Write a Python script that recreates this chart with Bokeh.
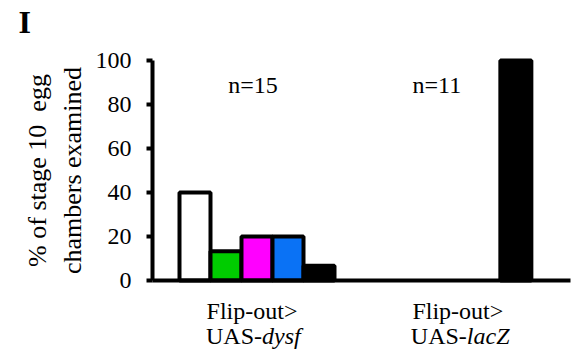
from bokeh.plotting import figure
from bokeh.models import Range1d, FixedTicker, Label, ColumnDataSource
from bokeh.embed import file_html
from bokeh.resources import INLINE

# ---- data ----
groups = ["dysf", "lacZ"]
group_line1 = ["Flip-out>", "Flip-out>"]
group_line2_plain = ["UAS-", "UAS-"]
group_line2_italic = ["dysf", "lacZ"]
group_n = ["n=15", "n=11"]
series_colors = ["#ffffff", "#00cc00", "#ff00ff", "#0a72f5", "#000000"]
dysf_values = [40.0, 13.3, 20.0, 20.0, 6.7]
lacz_values = [0.0, 0.0, 0.0, 0.0, 100.0]
y_ticks = [0, 20, 40, 60, 80, 100]

# ---- layout constants ----
GROUP_STEP = 6.35
FONT = "Liberation Serif"
AXIS_X = -1.371      # data x where the y axis sits
X_END = 12.11        # data x where the x axis line ends
flip_dx = [-5, 4]
split_dx = [5, 13]
n_dx = [-4, -17]

values = [dysf_values, lacz_values]
xs, tops, cols = [], [], []
for gi, vals in enumerate(values):
    for si, v in enumerate(vals):
        if v > 0:
            xs.append(gi * GROUP_STEP + si)
            tops.append(v)
            cols.append(series_colors[si])
src = ColumnDataSource(dict(x=xs, top=tops, color=cols))

p = figure(width=579, height=357, output_backend="svg", toolbar_location=None,
           x_range=Range1d(-6.274, 12.403), y_range=Range1d(-35.0, 127.27),
           min_border_left=0, min_border_right=0, min_border_top=0,
           min_border_bottom=0)
p.outline_line_color = None
p.xgrid.visible = False
p.ygrid.visible = False
p.background_fill_color = "white"
p.border_fill_color = "white"

p.vbar(x="x", top="top", bottom=0, width=1.0, fill_color="color",
       line_color="black", line_width=4, source=src)

# y axis
ya = p.yaxis[0]
ya.fixed_location = AXIS_X
ya.bounds = (0, 100)
ya.ticker = FixedTicker(ticks=y_ticks)
ya.axis_line_width = 4
ya.axis_line_color = "black"
ya.major_tick_line_width = 4
ya.major_tick_out = 6
ya.major_tick_in = 0
ya.minor_tick_line_color = None
ya.major_label_text_font = FONT
ya.major_label_text_font_size = "24px"
ya.major_label_text_color = "black"
ya.major_label_standoff = 15
ya.axis_label = "% of stage 10 \u00a0egg\nchambers examined"
ya.axis_label_text_font = FONT
ya.axis_label_text_font_size = "26px"
ya.axis_label_text_font_style = "normal"
ya.axis_label_text_color = "black"
ya.axis_label_standoff = 6

# x axis
xa = p.xaxis[0]
xa.fixed_location = 0
xa.bounds = (AXIS_X, X_END)
xa.ticker = FixedTicker(ticks=[])
xa.axis_line_width = 4
xa.axis_line_color = "black"
xa.major_tick_line_color = None
xa.minor_tick_line_color = None

for gi in range(len(groups)):
    c = gi * GROUP_STEP + 2
    p.add_layout(Label(x=c, y=-13.8, x_offset=flip_dx[gi], text=group_line1[gi],
                       text_align="center", text_baseline="alphabetic",
                       text_font=FONT, text_font_size="24px", text_color="black"))
    p.add_layout(Label(x=c, y=-25.2, x_offset=split_dx[gi], text=group_line2_plain[gi],
                       text_align="right", text_baseline="alphabetic",
                       text_font=FONT, text_font_size="24px", text_color="black"))
    p.add_layout(Label(x=c, y=-25.2, x_offset=split_dx[gi], text=group_line2_italic[gi],
                       text_align="left", text_baseline="alphabetic",
                       text_font=FONT, text_font_size="24px", text_font_style="italic",
                       text_color="black"))
    p.add_layout(Label(x=c, y=89.0, x_offset=n_dx[gi], text=group_n[gi],
                       text_align="center", text_baseline="alphabetic",
                       text_font=FONT, text_font_size="24px", text_color="black"))

# panel letter
p.add_layout(Label(x=-5.69, y=117.5, text="I", text_align="left",
                   text_baseline="alphabetic", text_font=FONT,
                   text_font_size="32px", text_font_style="bold", text_color="black"))

open("out.html", "w").write(file_html(p, INLINE))
